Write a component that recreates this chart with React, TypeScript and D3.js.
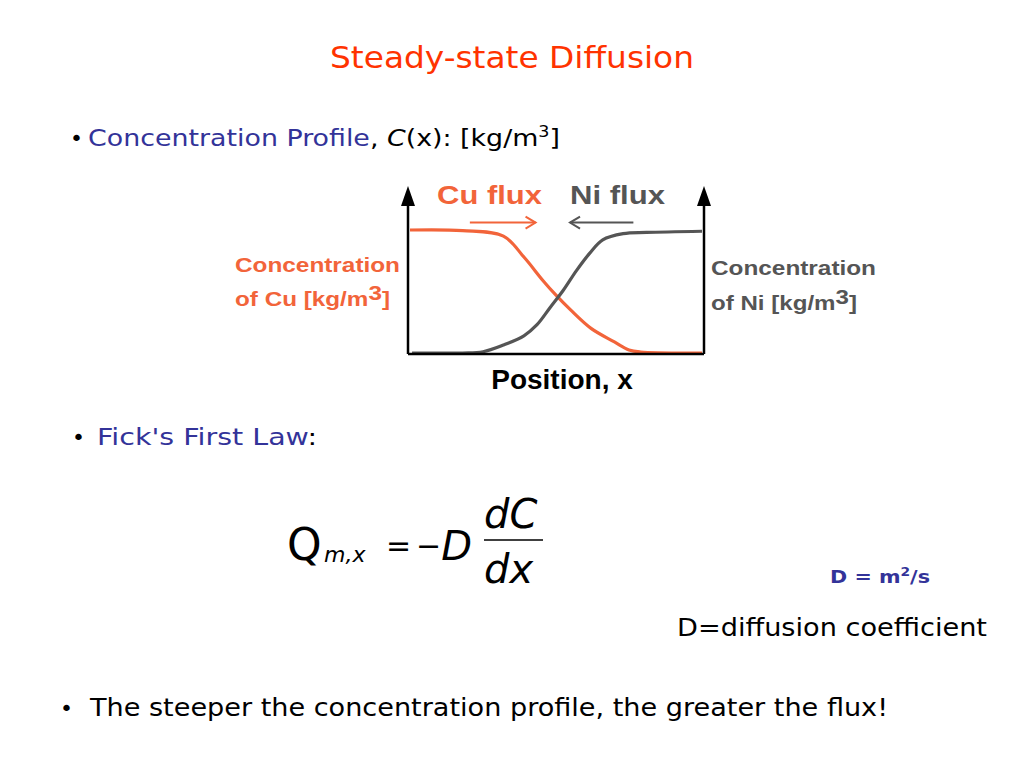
import * as d3 from "d3";

// concentration profile, position normalised 0..1, concentration normalised 0..1
const cuPosition = [0, 0.18, 0.32, 0.39, 0.455, 0.5, 0.55, 0.62, 0.7, 0.75, 0.79, 1.0];
const cuConc = [1.0, 0.995, 0.95, 0.78, 0.59, 0.47, 0.35, 0.2, 0.09, 0.025, 0.008, 0.0];

const niPosition = [0.007, 0.18, 0.25, 0.32, 0.39, 0.435, 0.48, 0.525, 0.57, 0.615, 0.66, 0.73, 0.81, 1.0];
const niConc = [0, 0, 0.01, 0.065, 0.14, 0.23, 0.37, 0.51, 0.67, 0.81, 0.92, 0.97, 0.98, 0.99];

// flux arrows: [from, to] position, drawn at a concentration level above the curves
const cuFluxArrow = [0.205, 0.43];
const niFluxArrow = [0.765, 0.548];
const fluxLevel = 1.06;

const ORANGE = "#f2643a";
const GRAY = "#555555";
const BLUE = "#333399";
const TITLE_RED = "#ff3300";
const HAND = "'DejaVu Sans', sans-serif";
const ARIAL = "'Liberation Sans', Arial, sans-serif";

const W = 1024;
const H = 768;

export default function App() {
  const x = d3.scaleLinear().domain([0, 1]).range([410, 702]);
  const y = d3.scaleLinear().domain([0, 1]).range([353, 230]);

  const line = d3
    .line<[number, number]>()
    .x((d) => x(d[0]))
    .y((d) => y(d[1]))
    .curve(d3.curveCatmullRom.alpha(0.5));

  const cuPts = cuPosition.map((p, i) => [p, cuConc[i]] as [number, number]);
  const niPts = niPosition.map((p, i) => [p, niConc[i]] as [number, number]);

  const [x0, x1] = x.range();
  const yBase = y(0) + 1;
  const axisLeft = x0 - 2;
  const axisRight = x1 + 2;
  const arrowTop = 186;

  const axisArrow = (ax: number) =>
    `M${ax - 7},${arrowTop + 20} L${ax},${arrowTop} L${ax + 7},${arrowTop + 20} Z`;

  const fluxArrow = (pair: number[], color: string) => {
    const xa = x(pair[0]);
    const xb = x(pair[1]);
    const yy = y(fluxLevel);
    const dir = Math.sign(xb - xa);
    return (
      <g stroke={color} strokeWidth={2} fill="none">
        <line x1={xa} y1={yy} x2={xb} y2={yy} />
        <path d={`M${xb - dir * 10},${yy - 6} L${xb},${yy} L${xb - dir * 10},${yy + 6}`} />
      </g>
    );
  };

  return (
    <svg width={W} height={H} style={{ display: "block", position: "absolute", left: 0, top: 0 }}>
      <rect width={W} height={H} fill="#fff" />
      <text x={512} y={68} textAnchor="middle" fontFamily={HAND} fontSize={31} fill={TITLE_RED}
        textLength={364} lengthAdjust="spacingAndGlyphs">
        Steady-state Diffusion
      </text>

      <text x={70} y={146} fontFamily={HAND} fontSize={22}>•</text>
      <text x={88} y={146} fontFamily={HAND} fontSize={23} textLength={472} lengthAdjust="spacingAndGlyphs">
        <tspan fill={BLUE}>Concentration Profile</tspan>
        <tspan fill="#000">, </tspan>
        <tspan fill="#000" fontStyle="italic">C</tspan>
        <tspan fill="#000">(x): [kg/m</tspan>
        <tspan fill="#000" fontSize={15} dy={-9}>3</tspan>
        <tspan fill="#000" dy={9}>]</tspan>
      </text>

      {/* concentration profile chart */}
      <path d={line(cuPts) ?? ""} fill="none" stroke={ORANGE} strokeWidth={3.2} />
      <path d={line(niPts) ?? ""} fill="none" stroke={GRAY} strokeWidth={3.2} />
      <g stroke="#000" strokeWidth={2.5}>
        <line x1={axisLeft} y1={yBase} x2={axisLeft} y2={arrowTop + 18} />
        <line x1={axisRight} y1={yBase} x2={axisRight} y2={arrowTop + 18} />
        <line x1={axisLeft} y1={yBase} x2={axisRight} y2={yBase} />
      </g>
      <path d={axisArrow(axisLeft)} fill="#000" />
      <path d={axisArrow(axisRight)} fill="#000" />

      {fluxArrow(cuFluxArrow, ORANGE)}
      {fluxArrow(niFluxArrow, GRAY)}

      <text x={437} y={204} fontFamily={ARIAL} fontWeight="bold" fontSize={26} fill={ORANGE}
        textLength={105} lengthAdjust="spacingAndGlyphs">Cu flux</text>
      <text x={570} y={204} fontFamily={ARIAL} fontWeight="bold" fontSize={26} fill={GRAY}
        textLength={95} lengthAdjust="spacingAndGlyphs">Ni flux</text>

      <g fontFamily={ARIAL} fontWeight="bold" fontSize={21} fill={ORANGE}>
        <text x={235} y={272} textLength={165} lengthAdjust="spacingAndGlyphs">Concentration</text>
        <text x={235} y={306} textLength={155} lengthAdjust="spacingAndGlyphs">
          of Cu [kg/m<tspan dy={-6}>3</tspan><tspan dy={6}>]</tspan>
        </text>
      </g>
      <g fontFamily={ARIAL} fontWeight="bold" fontSize={21} fill={GRAY}>
        <text x={711} y={275} textLength={165} lengthAdjust="spacingAndGlyphs">Concentration</text>
        <text x={711} y={310} textLength={146} lengthAdjust="spacingAndGlyphs">
          of Ni [kg/m<tspan dy={-6}>3</tspan><tspan dy={6}>]</tspan>
        </text>
      </g>
      <text x={562} y={389} textAnchor="middle" fontFamily={ARIAL} fontWeight="bold" fontSize={28} fill="#000">
        Position, x
      </text>

      <text x={72} y={445} fontFamily={HAND} fontSize={22}>•</text>
      <text x={97} y={445} fontFamily={HAND} fontSize={23} textLength={220} lengthAdjust="spacingAndGlyphs">
        <tspan fill={BLUE}>Fick's First Law</tspan>
        <tspan fill="#000">:</tspan>
      </text>

      {/* Fick's first law */}
      <g fontFamily={HAND} fill="#000">
        <text x={287} y={560} fontSize={44}>Q</text>
        <text x={324} y={562} fontSize={22} fontStyle="italic">m,x</text>
        <text x={386} y={556} fontSize={30}>=</text>
        <text x={416} y={556} fontSize={30}>
          −<tspan fontSize={40} fontStyle="italic" dy={4}>D</tspan>
        </text>
        <text x={484} y={528} fontSize={40} fontStyle="italic">dC</text>
        <line x1={484} y1={540} x2={543} y2={540} stroke="#000" strokeWidth={1.5} />
        <text x={484} y={583} fontSize={40} fontStyle="italic">dx</text>
      </g>

      <text x={830} y={583} fontFamily={HAND} fontWeight="bold" fontSize={18} fill={BLUE}
        textLength={100} lengthAdjust="spacingAndGlyphs">
        D = m<tspan fontSize={12} dy={-7}>2</tspan><tspan dy={7}>/s</tspan>
      </text>
      <text x={677} y={636} fontFamily={HAND} fontSize={25} fill="#000" textLength={310} lengthAdjust="spacingAndGlyphs">
        D=diffusion coefficient
      </text>

      <text x={60} y={716} fontFamily={HAND} fontSize={22}>•</text>
      <text x={90} y={716} fontFamily={HAND} fontSize={25} fill="#000" textLength={798} lengthAdjust="spacingAndGlyphs">
        The steeper the concentration profile, the greater the flux!
      </text>
    </svg>
  );
}
